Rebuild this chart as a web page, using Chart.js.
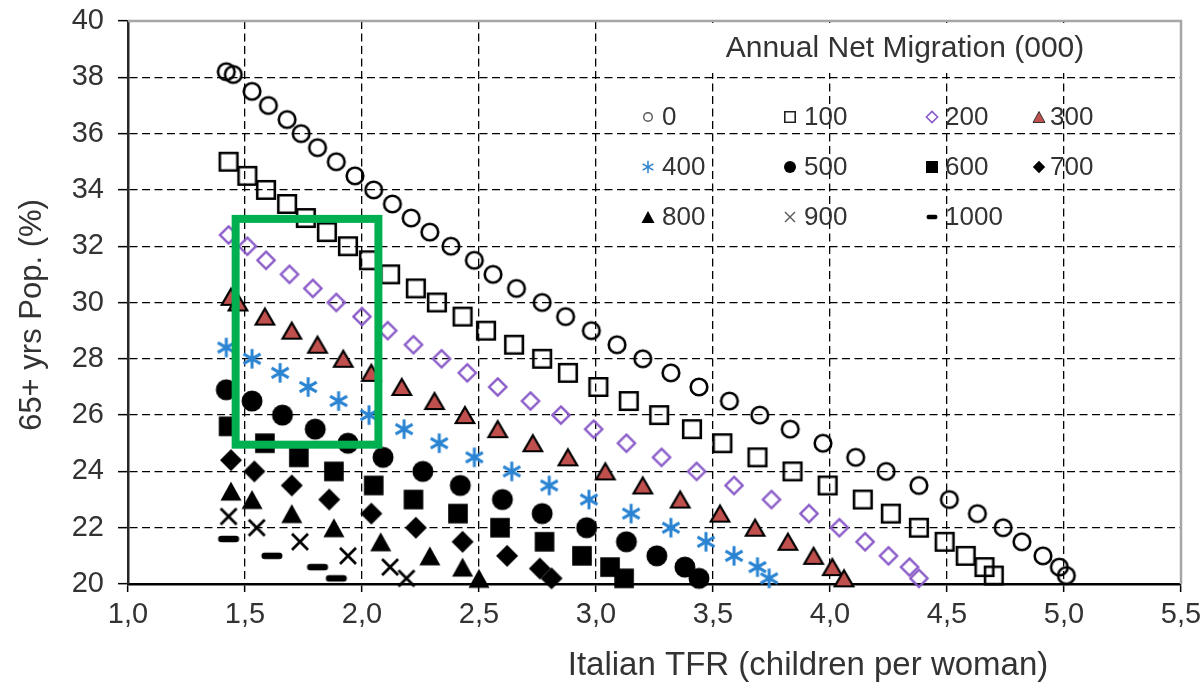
<!DOCTYPE html>
<html>
<head>
<meta charset="utf-8">
<script src="https://cdn.jsdelivr.net/npm/chart.js@4.4.1/dist/chart.umd.min.js"></script>
<style>
  html, body { margin: 0; padding: 0; background: #ffffff; }
  #wrap { width: 1204px; height: 686px; position: relative; }
</style>
</head>
<body>
<div id="wrap"><canvas id="chart"></canvas></div>
<script>
const FONT = "'Liberation Sans', Arial, sans-serif";
const TEXT = '#333333';

// Annual net migration scenarios (thousands)
const migrationLabels = ['0', '100', '200', '300', '400', '500', '600', '700', '800', '900', '1000'];

// Italian TFR (children per woman) and share of population aged 65+ (%), one pair per scenario
const tfr0 = [1.42, 1.45, 1.53, 1.60, 1.68, 1.74, 1.81, 1.89, 1.97, 2.05, 2.13, 2.21, 2.29, 2.38, 2.48, 2.56, 2.66, 2.77, 2.87, 2.98, 3.09, 3.20, 3.32, 3.44, 3.57, 3.70, 3.83, 3.97, 4.11, 4.24, 4.38, 4.51, 4.63, 4.74, 4.82, 4.91, 4.98, 5.01];
const old0 = [38.2, 38.1, 37.5, 37.0, 36.5, 36.0, 35.5, 35.0, 34.5, 34.0, 33.5, 33.0, 32.5, 32.0, 31.5, 31.0, 30.5, 30.0, 29.5, 29.0, 28.5, 28.0, 27.5, 27.0, 26.5, 26.0, 25.5, 25.0, 24.5, 24.0, 23.5, 23.0, 22.5, 22.0, 21.5, 21.0, 20.6, 20.3];

const tfr100 = [1.43, 1.51, 1.59, 1.68, 1.76, 1.85, 1.94, 2.03, 2.12, 2.23, 2.32, 2.43, 2.53, 2.65, 2.77, 2.88, 3.01, 3.14, 3.27, 3.41, 3.54, 3.69, 3.84, 3.99, 4.14, 4.26, 4.38, 4.49, 4.58, 4.66, 4.70];
const old100 = [35.0, 34.5, 34.0, 33.5, 33.0, 32.5, 32.0, 31.5, 31.0, 30.5, 30.0, 29.5, 29.0, 28.5, 28.0, 27.5, 27.0, 26.5, 26.0, 25.5, 25.0, 24.5, 24.0, 23.5, 23.0, 22.5, 22.0, 21.5, 21.0, 20.6, 20.3];

const tfr200 = [1.43, 1.51, 1.59, 1.69, 1.79, 1.89, 2.00, 2.11, 2.22, 2.34, 2.45, 2.58, 2.72, 2.85, 2.99, 3.13, 3.28, 3.43, 3.59, 3.75, 3.91, 4.04, 4.15, 4.25, 4.34, 4.38];
const old200 = [32.4, 32.0, 31.5, 31.0, 30.5, 30.0, 29.5, 29.0, 28.5, 28.0, 27.5, 27.0, 26.5, 26.0, 25.5, 25.0, 24.5, 24.0, 23.5, 23.0, 22.5, 22.0, 21.5, 21.0, 20.6, 20.2];

const tfr300 = [1.44, 1.47, 1.585, 1.70, 1.81, 1.92, 2.04, 2.17, 2.31, 2.44, 2.58, 2.73, 2.88, 3.04, 3.20, 3.36, 3.53, 3.68, 3.82, 3.93, 4.01, 4.06];
const old300 = [30.2, 30.0, 29.5, 29.0, 28.5, 28.0, 27.5, 27.0, 26.5, 26.0, 25.5, 25.0, 24.5, 24.0, 23.5, 23.0, 22.5, 22.0, 21.5, 21.0, 20.6, 20.2];

const tfr400 = [1.42, 1.53, 1.65, 1.77, 1.90, 2.03, 2.18, 2.33, 2.48, 2.64, 2.80, 2.97, 3.15, 3.32, 3.47, 3.59, 3.69, 3.74];
const old400 = [28.4, 28.0, 27.5, 27.0, 26.5, 26.0, 25.5, 25.0, 24.5, 24.0, 23.5, 23.0, 22.5, 22.0, 21.5, 21.0, 20.6, 20.2];

const tfr500 = [1.42, 1.53, 1.66, 1.80, 1.94, 2.09, 2.26, 2.42, 2.60, 2.77, 2.96, 3.13, 3.26, 3.38, 3.44];
const old500 = [26.9, 26.5, 26.0, 25.5, 25.0, 24.5, 24.0, 23.5, 23.0, 22.5, 22.0, 21.5, 21.0, 20.6, 20.2];

const tfr600 = [1.43, 1.585, 1.73, 1.88, 2.05, 2.22, 2.41, 2.59, 2.78, 2.94, 3.06, 3.12];
const old600 = [25.6, 25.0, 24.5, 24.0, 23.5, 23.0, 22.5, 22.0, 21.5, 21.0, 20.6, 20.2];

const tfr700 = [1.44, 1.54, 1.70, 1.86, 2.04, 2.23, 2.43, 2.62, 2.76, 2.81];
const old700 = [24.4, 24.0, 23.5, 23.0, 22.5, 22.0, 21.5, 21.0, 20.55, 20.2];

const tfr800 = [1.44, 1.53, 1.70, 1.88, 2.08, 2.29, 2.43, 2.50];
const old800 = [23.3, 23.0, 22.5, 22.0, 21.5, 21.0, 20.6, 20.2];

const tfr900 = [1.43, 1.55, 1.735, 1.94, 2.12, 2.19];
const old900 = [22.4, 22.0, 21.5, 21.0, 20.6, 20.2];

const tfr1000 = [1.43, 1.615, 1.81, 1.89];
const old1000 = [21.6, 21.0, 20.6, 20.2];

const tfrSeries = [tfr0, tfr100, tfr200, tfr300, tfr400, tfr500, tfr600, tfr700, tfr800, tfr900, tfr1000];
const oldSeries = [old0, old100, old200, old300, old400, old500, old600, old700, old800, old900, old1000];

// Axis ranges
const xMin = 1.0, xMax = 5.5, xStep = 0.5;
const yMin = 20, yMax = 40, yStep = 2;

// Highlighted region: TFR range and 65+ share range
const boxTfr = [1.46, 2.07];
const boxOld = [24.95, 32.97];

// ---- marker glyphs -------------------------------------------------------
function glyph(kind, o) {
  const size = 32;
  const cv = document.createElement('canvas');
  cv.width = size; cv.height = size;
  const g = cv.getContext('2d');
  const c = size / 2;
  g.lineWidth = o.lw || 0;
  g.strokeStyle = o.stroke || '#000';
  g.fillStyle = o.fill || '#000';
  g.lineJoin = 'miter';
  g.beginPath();
  const r = o.r;
  switch (kind) {
    case 'ring':
      g.arc(c, c, r, 0, Math.PI * 2);
      g.stroke();
      break;
    case 'square':
      g.rect(c - r, c - r, 2 * r, 2 * r);
      if (o.fill) g.fill();
      if (o.lw) g.stroke();
      break;
    case 'diamond':
      g.moveTo(c, c - r); g.lineTo(c + r, c); g.lineTo(c, c + r); g.lineTo(c - r, c); g.closePath();
      if (o.fill) g.fill();
      if (o.lw) g.stroke();
      break;
    case 'triangle': {
      const h = o.h || r * 1.8;
      const w = o.w || r * 2;
      g.moveTo(c, c - h / 2); g.lineTo(c + w / 2, c + h / 2); g.lineTo(c - w / 2, c + h / 2); g.closePath();
      if (o.fill) g.fill();
      if (o.lw) g.stroke();
      break;
    }
    case 'disc':
      g.arc(c, c, r, 0, Math.PI * 2);
      g.fill();
      break;
    case 'asterisk': {
      const dx = r * 0.87, dy = r * 0.5;
      g.moveTo(c, c - r); g.lineTo(c, c + r);
      g.moveTo(c - dx, c - dy); g.lineTo(c + dx, c + dy);
      g.moveTo(c - dx, c + dy); g.lineTo(c + dx, c - dy);
      g.stroke();
      break;
    }
    case 'cross':
      g.moveTo(c - r, c - r); g.lineTo(c + r, c + r);
      g.moveTo(c - r, c + r); g.lineTo(c + r, c - r);
      g.stroke();
      break;
    case 'dash': {
      const w = o.w, h = o.h, rr = h / 2;
      g.roundRect(c - w / 2, c - h / 2, w, h, rr);
      g.fill();
      break;
    }
  }
  return cv;
}

const PURPLE = '#8a5bc8';
const RED = '#c0504d';
const BLUE = '#2a84d2';

const plotGlyphs = [
  glyph('ring', { r: 8.3, lw: 2.6 }),
  glyph('square', { r: 8.8, lw: 2.6 }),
  glyph('diamond', { r: 8.6, lw: 2.4, stroke: PURPLE }),
  glyph('triangle', { w: 18.5, h: 16, lw: 2.2, fill: RED, stroke: '#000' }),
  glyph('asterisk', { r: 9.8, lw: 3, stroke: BLUE }),
  glyph('disc', { r: 10.5 }),
  glyph('square', { r: 9.8, fill: '#000' }),
  glyph('diamond', { r: 11, fill: '#000' }),
  glyph('triangle', { w: 21, h: 19, fill: '#000' }),
  glyph('cross', { r: 8, lw: 2.8 }),
  glyph('dash', { w: 21, h: 6.5 })
];

const legendGlyphs = [
  glyph('ring', { r: 4.3, lw: 1.4, stroke: '#555' }),
  glyph('square', { r: 5.2, lw: 1.6, stroke: '#222' }),
  glyph('diamond', { r: 5.6, lw: 1.6, stroke: PURPLE }),
  glyph('triangle', { w: 12, h: 11, lw: 1, fill: RED, stroke: '#333' }),
  glyph('asterisk', { r: 6.2, lw: 1.5, stroke: BLUE }),
  glyph('disc', { r: 6 }),
  glyph('square', { r: 6, fill: '#000' }),
  glyph('diamond', { r: 6.2, fill: '#000' }),
  glyph('triangle', { w: 13, h: 12, fill: '#000' }),
  glyph('cross', { r: 5, lw: 1.4, stroke: '#555' }),
  glyph('dash', { w: 11, h: 4.5 })
];

// ---- datasets -------------------------------------------------------------
const datasets = migrationLabels.map((label, i) => ({
  label: label,
  data: tfrSeries[i].map((x, k) => ({ x: x, y: oldSeries[i][k] })),
  pointStyle: plotGlyphs[i],
  pointRadius: 10,
  pointHoverRadius: 10,
  showLine: false,
  clip: false
}));

// ---- legend grid, plot frame, heading, axis titles, highlight box --------
const legendCols = [648, 790, 932, 1039];
const legendTextX = [662, 804, 945, 1050];
const legendRows = [117, 167, 217];

const decorations = {
  id: 'decorations',
  beforeDatasetsDraw(chart) {
    const { ctx, chartArea: a } = chart;
    ctx.save();
    // white panel behind the legend heading
    ctx.fillStyle = '#ffffff';
    ctx.fillRect(640, a.top + 2, a.right - 642, 50);
    // light frame on top and right of the plot area
    ctx.strokeStyle = '#a6a6a6';
    ctx.lineWidth = 2.5;
    ctx.beginPath();
    ctx.moveTo(a.left, a.top);
    ctx.lineTo(a.right, a.top);
    ctx.lineTo(a.right, a.bottom);
    ctx.stroke();

    // legend heading
    ctx.fillStyle = TEXT;
    ctx.font = '30px ' + FONT;
    ctx.textAlign = 'center';
    ctx.textBaseline = 'middle';
    ctx.fillText('Annual Net Migration (000)', 905, 49);

    // legend entries, four per row
    ctx.font = '26px ' + FONT;
    ctx.textAlign = 'left';
    migrationLabels.forEach((label, i) => {
      const col = i % 4, row = Math.floor(i / 4);
      const gx = legendCols[col], gy = legendRows[row];
      const img = legendGlyphs[i];
      ctx.drawImage(img, gx - img.width / 2, gy - img.height / 2);
      ctx.fillText(label, legendTextX[col], gy + 1);
    });
    ctx.restore();
  },
  afterDatasetsDraw(chart) {
    const { ctx, scales: { x, y } } = chart;
    const x0 = x.getPixelForValue(boxTfr[0]);
    const x1 = x.getPixelForValue(boxTfr[1]);
    const y0 = y.getPixelForValue(boxOld[1]);
    const y1 = y.getPixelForValue(boxOld[0]);
    ctx.save();
    ctx.strokeStyle = '#00b050';
    ctx.lineWidth = 8;
    ctx.lineJoin = 'miter';
    ctx.strokeRect(x0, y0, x1 - x0, y1 - y0);
    ctx.restore();
  },
  afterDraw(chart) {
    const { ctx } = chart;
    ctx.save();
    ctx.fillStyle = TEXT;
    ctx.textAlign = 'center';
    ctx.textBaseline = 'middle';
    ctx.font = '33px ' + FONT;
    ctx.fillText('Italian TFR (children per woman)', 808, 666);
    ctx.translate(32, 315);
    ctx.rotate(-Math.PI / 2);
    ctx.font = '31px ' + FONT;
    ctx.fillText('65+ yrs Pop. (%)', 0, 0);
    ctx.restore();
  }
};

new Chart(document.getElementById('chart'), {
  type: 'scatter',
  data: { datasets: datasets },
  options: {
    responsive: true,
    maintainAspectRatio: false,
    animation: false,
    events: [],
    layout: { padding: { top: 21, right: 23, left: 0, bottom: 0 } },
    plugins: {
      legend: { display: false },
      tooltip: { enabled: false }
    },
    scales: {
      x: {
        type: 'linear',
        min: xMin,
        max: xMax,
        afterFit(scale) {
          scale.height = 102;
          scale.paddingLeft = 0;
          scale.paddingRight = 0;
        },
        afterBuildTicks(scale) {
          const t = [];
          for (let v = xMin; v <= xMax + 1e-9; v += xStep) t.push({ value: +v.toFixed(2) });
          scale.ticks = t;
        },
        ticks: {
          font: { family: FONT, size: 29 },
          color: TEXT,
          padding: 6,
          maxRotation: 0,
          callback: (v) => v.toFixed(1).replace('.', ',')
        },
        grid: { color: '#000000', lineWidth: 1.3, tickLength: 8, tickColor: '#000000', tickWidth: 1.5 },
        border: { display: true, color: '#000000', width: 2.5, dash: [8, 4.5] }
      },
      y: {
        type: 'linear',
        min: yMin,
        max: yMax,
        afterFit(scale) {
          scale.width = 128;
          scale.paddingTop = 0;
          scale.paddingBottom = 0;
        },
        afterBuildTicks(scale) {
          const t = [];
          for (let v = yMin; v <= yMax + 1e-9; v += yStep) t.push({ value: v });
          scale.ticks = t;
        },
        ticks: {
          font: { family: FONT, size: 29 },
          color: TEXT,
          padding: 14,
          callback: (v) => String(v)
        },
        grid: { color: '#000000', lineWidth: 1.3, tickLength: 10, tickColor: '#000000', tickWidth: 1.5 },
        border: { display: true, color: '#262626', width: 2.5, dash: [8, 4.5] }
      }
    }
  },
  plugins: [decorations]
});
</script>
</body>
</html>
